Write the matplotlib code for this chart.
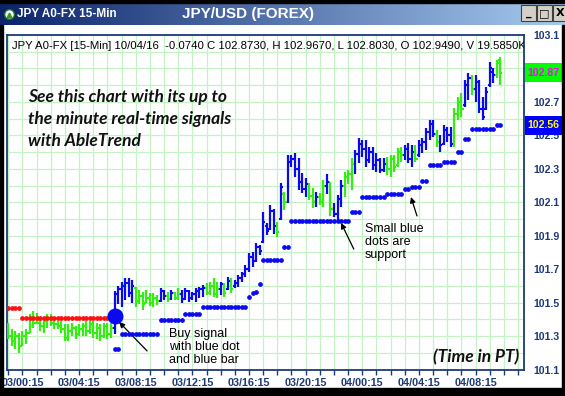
import numpy as np
import matplotlib.pyplot as plt
from matplotlib.patches import Rectangle
from matplotlib.colors import LinearSegmentedColormap
from matplotlib.transforms import blended_transform_factory

plt.rcParams['font.family'] = ['Liberation Sans', 'DejaVu Sans']

# 15-minute bars, index 0 = 02/23:15
highs = [101.38, 101.34, 101.33, 101.32, 101.33, 101.34, 101.43, 101.45, 101.44, 101.40,
         101.41, 101.43, 101.43, 101.40, 101.39, 101.39, 101.37, 101.37, 101.38, 101.36,
         101.37, 101.38, 101.39, 101.39, 101.39, 101.38, 101.37, 101.38, 101.38, 101.38,
         101.57, 101.60, 101.625, 101.645, 101.65, 101.635, 101.595, 101.575, 101.565, 101.575,
         101.555, 101.555, 101.545, 101.585, 101.575, 101.565, 101.575, 101.565, 101.585, 101.575,
         101.585, 101.575, 101.565, 101.585, 101.595, 101.605, 101.615, 101.625, 101.645, 101.625,
         101.625, 101.615, 101.655, 101.645, 101.635, 101.665, 101.685, 101.725, 101.795, 101.805,
         101.855, 101.845, 102.044, 101.974, 102.084, 102.06, 101.984, 102.213, 102.164, 102.383,
         102.38, 102.392, 102.362, 102.273, 102.243, 102.213, 102.184, 102.164, 102.154, 102.233,
         102.27, 102.223, 102.093, 102.143, 102.233, 102.283, 102.29, 102.362, 102.41, 102.482,
         102.472, 102.472, 102.432, 102.432, 102.392, 102.362, 102.362, 102.372, 102.382, 102.382,
         102.422, 102.432, 102.442, 102.452, 102.442, 102.442, 102.472, 102.482, 102.542, 102.592,
         102.592, 102.532, 102.502, 102.562, 102.552, 102.552, 102.661, 102.731, 102.751, 102.831,
         102.87, 102.86, 102.86, 102.831, 102.73, 102.791, 102.94, 102.90, 102.95, 102.967]
lows = [101.28, 101.24, 101.22, 101.20, 101.24, 101.25, 101.32, 101.35, 101.37, 101.33,
        101.32, 101.35, 101.36, 101.34, 101.34, 101.32, 101.27, 101.27, 101.30, 101.28,
        101.30, 101.30, 101.30, 101.31, 101.29, 101.28, 101.27, 101.29, 101.28, 101.29,
        101.31, 101.49, 101.475, 101.515, 101.535, 101.495, 101.475, 101.49, 101.455, 101.495,
        101.48, 101.475, 101.485, 101.505, 101.515, 101.505, 101.515, 101.515, 101.515, 101.495,
        101.515, 101.505, 101.515, 101.505, 101.525, 101.535, 101.545, 101.545, 101.535, 101.525,
        101.546, 101.536, 101.576, 101.556, 101.586, 101.595, 101.625, 101.655, 101.685, 101.715,
        101.745, 101.785, 101.855, 101.904, 101.934, 101.91, 101.894, 101.994, 102.054, 102.094,
        102.31, 102.253, 102.174, 102.154, 102.134, 102.114, 102.064, 102.074, 102.084, 102.074,
        102.15, 102.02, 102.013, 101.994, 102.073, 102.133, 102.21, 102.173, 102.27, 102.332,
        102.372, 102.313, 102.332, 102.293, 102.283, 102.273, 102.283, 102.263, 102.253, 102.283,
        102.313, 102.342, 102.352, 102.332, 102.313, 102.343, 102.373, 102.392, 102.412, 102.472,
        102.492, 102.432, 102.402, 102.442, 102.462, 102.432, 102.432, 102.592, 102.611, 102.671,
        102.711, 102.74, 102.701, 102.631, 102.592, 102.651, 102.791, 102.811, 102.84, 102.803]
opens = [101.35, 101.30, 101.27, 101.30, 101.24, 101.30, 101.32, 101.40, 101.38, 101.38,
         101.36, 101.39, 101.41, 101.38, 101.37, 101.36, 101.34, 101.29, 101.33, 101.35,
         101.31, 101.34, 101.36, 101.33, 101.37, 101.32, 101.35, 101.30, 101.36, 101.31,
         101.35, 101.55, 101.58, 101.60, 101.62, 101.56, 101.59, 101.51, 101.54, 101.50,
         101.53, 101.50, 101.53, 101.51, 101.57, 101.54, 101.52, 101.56, 101.53, 101.55,
         101.52, 101.57, 101.53, 101.55, 101.57, 101.58, 101.59, 101.56, 101.60, 101.55,
         101.58, 101.61, 101.58, 101.63, 101.60, 101.62, 101.65, 101.67, 101.70, 101.77,
         101.75, 101.83, 101.86, 101.96, 101.94, 102.05, 101.96, 102.00, 102.15, 102.10,
         102.34, 102.36, 102.30, 102.22, 102.18, 102.21, 102.14, 102.10, 102.13, 102.10,
         102.20, 102.22, 102.06, 102.03, 102.12, 102.20, 102.25, 102.27, 102.33, 102.39,
         102.45, 102.42, 102.35, 102.40, 102.32, 102.35, 102.29, 102.33, 102.30, 102.36,
         102.32, 102.40, 102.38, 102.42, 102.36, 102.40, 102.38, 102.44, 102.46, 102.52,
         102.57, 102.51, 102.46, 102.45, 102.53, 102.50, 102.45, 102.63, 102.70, 102.68,
         102.80, 102.84, 102.78, 102.82, 102.66, 102.66, 102.80, 102.88, 102.86, 102.949]
closes = [101.30, 101.27, 101.30, 101.24, 101.30, 101.32, 101.40, 101.38, 101.41, 101.36,
          101.39, 101.41, 101.38, 101.37, 101.36, 101.34, 101.29, 101.33, 101.35, 101.31,
          101.34, 101.36, 101.33, 101.37, 101.32, 101.35, 101.30, 101.36, 101.31, 101.35,
          101.55, 101.58, 101.60, 101.62, 101.56, 101.60, 101.51, 101.54, 101.49, 101.53,
          101.50, 101.53, 101.51, 101.57, 101.54, 101.52, 101.56, 101.53, 101.55, 101.52,
          101.57, 101.53, 101.55, 101.57, 101.58, 101.59, 101.56, 101.60, 101.55, 101.58,
          101.61, 101.56, 101.63, 101.58, 101.62, 101.65, 101.67, 101.70, 101.77, 101.75,
          101.83, 101.81, 101.98, 101.93, 102.05, 101.96, 101.92, 102.19, 102.10, 102.34,
          102.36, 102.30, 102.22, 102.18, 102.21, 102.14, 102.10, 102.13, 102.10, 102.20,
          102.22, 102.06, 102.03, 102.12, 102.20, 102.25, 102.27, 102.33, 102.39, 102.45,
          102.42, 102.35, 102.40, 102.32, 102.35, 102.29, 102.33, 102.30, 102.36, 102.31,
          102.40, 102.38, 102.42, 102.36, 102.40, 102.36, 102.44, 102.46, 102.52, 102.57,
          102.51, 102.46, 102.44, 102.53, 102.50, 102.45, 102.63, 102.70, 102.66, 102.80,
          102.84, 102.78, 102.82, 102.66, 102.61, 102.76, 102.90, 102.86, 102.93, 102.873]
# g = green (no trend / weak), b = blue (uptrend)
bar_colours = ("gggggggggggggggggggggggggggggg"
               "bbbbbbggggggg" "bbgbgg" "bbbbbbb" "gggg" "bgbgb" "bbbbbbbbbb"
               "bgbgbbbbbbgg" "bgg" "bgbbb" "ggg" "bbbbbbbbb" "ggggg" "bbb" "g"
               "bbbbb" "g" "bbbb" "ggg" "bb" "g" "bbbbbb" "ggg" "bbbb" "g")

# stop levels: red (short stop) and blue (support) dots
red_idx = list(range(0, 30))
red_vals = [101.47] * 4 + [101.41] * 26
support_idx = list(range(30, 140))
support_vals = ([101.22] * 2 + [101.31] * 11 + [101.395] * 7 + [101.43] * 5 + [101.475] * 13
                + [101.533, 101.557, 101.563, 101.611] + [101.755] * 6 + [101.83] * 2
                + [101.99] * 17 + [102.04] * 3 + [102.13] * 7 + [102.15] * 5
                + [102.18, 102.18, 102.19, 102.19, 102.19] + [102.23] * 2 + [102.32] * 4
                + [102.34] * 4 + [102.40] * 2 + [102.48] * 2 + [102.54] * 7 + [102.56] * 2)
buy_idx, buy_val = 30, 101.42

tick_idx = [4, 20, 36, 52, 68, 84, 100, 116, 132]
tick_labels = ['03/00:15', '03/04:15', '03/08:15', '03/12:15', '03/16:15',
               '03/20:15', '04/00:15', '04/04:15', '04/08:15']
price_ticks = [101.1, 101.3, 101.5, 101.7, 101.9, 102.1, 102.3, 102.5, 102.7, 102.9, 103.1]
price_labels = ['101.1', '101.3', '101.5', '101.7', '101.9', '102.1', '102.3', '102.5',
                '102.7', '', '103.1']   # 102.9 sits under the last-price tag

BLUE = '#0a0af0'
GREEN = '#33ee11'
NAVY = '#1d3a78'

fig = plt.figure(figsize=(5.65, 3.96), dpi=100)
fig.patch.set_facecolor('white')

# window chrome
W, H = 565, 396
def px_rect(x0, y0, x1, y1, **kw):
    fig.patches.append(Rectangle((x0 / W, 1 - y1 / H), (x1 - x0) / W, (y1 - y0) / H,
                                 transform=fig.transFigure, **kw))

tb = fig.add_axes([0, 1 - 25 / H, 1, 22 / H])
grad = np.linspace(0, 1, 256)[None, :]
tb.imshow(grad, aspect='auto', extent=[0, 1, 0, 1],
          cmap=LinearSegmentedColormap.from_list('tb', ['#0a246a', '#a6caf0']))
tb.set_xlim(0, 1)
tb.set_ylim(0, 1)
tb.set_axis_off()
tb.plot([8.5 / W], [0.5], 'o', ms=7, mfc='white', mec='#2d6a2d', mew=1)
tb.plot([8.5 / W], [0.45], '^', ms=3.5, color='#2e9a2e')
tb.text(17 / W, 0.5, 'JPY A0-FX 15-Min', color='white', fontsize=8.5, fontweight='bold',
        va='center', ha='left')
tb.text(248 / W, 0.5, 'JPY/USD (FOREX)', color='white', fontsize=11, fontweight='bold',
        va='center', ha='center')
px_rect(0, 0, W, 3, color='black', zorder=5)
px_rect(0, 25, 2.5, H, color='black', zorder=5)
px_rect(562, 25, W, H, color='black', zorder=5)
px_rect(0, 388, W, H, color='black', zorder=5)
for bx, sym in [(521, '_'), (537, '\u25a1'), (553, 'X')]:
    px_rect(bx, 5, bx + 15, 21, fc='#d4d0c8', ec='#404040', lw=0.8, zorder=6)
    fig.text((bx + 7.5) / W, 1 - 13.5 / H, sym, ha='center', va='center', fontsize=8,
             fontweight='bold', color='black', zorder=7, family='DejaVu Sans')

ax = fig.add_axes([6.5 / W, 26.5 / H, 517.5 / W, 334.5 / H])
ax.set_xlim(-0.51, 145.68)
ax.set_ylim(101.1, 103.1)

ax.set_xticks(tick_idx)
ax.set_xticklabels(tick_labels)
ax.set_xticks(np.arange(0, 146, 4), minor=True)
ax.set_yticks(price_ticks)
ax.set_yticklabels(price_labels)
ax.set_yticks(np.arange(101.1, 103.15, 0.1), minor=True)
ax.yaxis.tick_right()
ax.grid(which='both', color='#c4f2c4', lw=0.9)
ax.set_axisbelow(True)
ax.tick_params(axis='x', which='both', length=3.5, width=1, color=NAVY, pad=2.5,
               labelsize=7.8, labelcolor=NAVY)
ax.tick_params(axis='y', which='both', length=0, pad=7, labelsize=7.6, labelcolor=NAVY)
for lab in ax.get_xticklabels() + ax.get_yticklabels():
    lab.set_fontweight('bold')
for s in ax.spines.values():
    s.set_color(NAVY)
    s.set_linewidth(1.3)

idx = np.arange(len(highs))
cols = [BLUE if c == 'b' else GREEN for c in bar_colours]
ax.vlines(idx, lows, highs, colors=cols, lw=1.6, zorder=3)
ax.hlines(opens, idx - 0.6, idx, colors=cols, lw=1.5, zorder=3)
ax.hlines(closes, idx, idx + 0.6, colors=cols, lw=1.5, zorder=3)

ax.plot(red_idx, red_vals, 'o', color='#ff1010', ms=2.4, zorder=4)
ax.plot(support_idx, support_vals, 'o', color=BLUE, ms=2.4, zorder=4)
ax.plot([buy_idx], [buy_val], 'o', color=BLUE, ms=10.5, zorder=5)

# header line
ax.text(0.0106, 0.967, 'JPY A0-FX [15-Min] 10/04/16  -0.0740 C 102.8730, H 102.9670, '
        'L 102.8030, O 102.9490, V 19.5850K', transform=ax.transAxes, fontsize=8.2,
        va='center', ha='left', clip_on=True, color='black')

promo = dict(fontsize=12.5, fontweight='bold', fontstyle='italic', family='Lato', color='#111111')
for k, line in enumerate(['See this chart with its up to', 'the minute real-time signals',
                          'with AbleTrend']):
    ax.text(0.0415, 0.8146 - 0.0658 * k, line, transform=ax.transAxes, va='center', **promo)
ax.text(0.99, 0.0374, '(Time in PT)', transform=ax.transAxes, va='center', ha='right', **promo)

ax.text(0.314, 0.067, 'Buy signal\nwith blue dot\nand blue bar', transform=ax.transAxes,
        fontsize=9, va='center', ha='left', linespacing=1.15)
ax.text(0.6928, 0.381, 'Small blue\ndots are\nsupport', transform=ax.transAxes,
        fontsize=9, va='center', ha='left', linespacing=1.15)
arrow = dict(arrowstyle='-|>', color='black', lw=0.9, mutation_scale=8, shrinkA=0, shrinkB=0)
ax.annotate('', xy=(31.3, 101.384), xytext=(39.2, 101.211), arrowprops=arrow)
ax.annotate('', xy=(94.0, 101.976), xytext=(97.6, 101.82), arrowprops=arrow)
ax.annotate('', xy=(113.75, 102.131), xytext=(115.45, 102.018), arrowprops=arrow)

# last price / last support tags
bt = blended_transform_factory(ax.transAxes, ax.transData)
for val, fc, tc in [(closes[-1], '#00ff00', '#ff00ff'), (support_vals[-1], '#0000ff', '#ffff00')]:
    ax.add_patch(Rectangle((1.002, val - 0.057), 0.072, 0.114, transform=bt, fc=fc,
                           ec='none', clip_on=False, zorder=6))
    ax.text(1.006, val, f'{val:.2f}', transform=bt, color=tc, fontsize=7.6,
            fontweight='bold', va='center', ha='left', clip_on=False, zorder=7)

fig.savefig('out.png', dpi=100)
